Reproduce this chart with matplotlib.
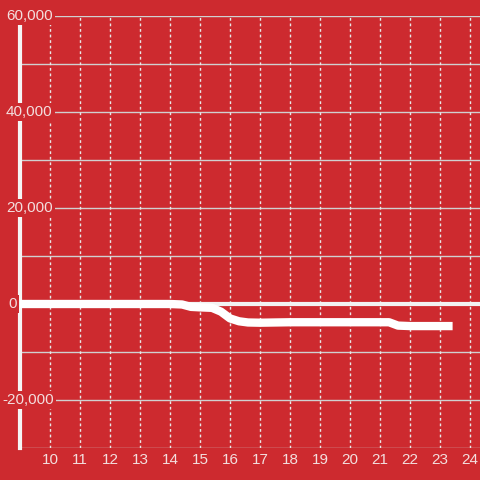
import matplotlib
matplotlib.use("Agg")
import matplotlib.pyplot as plt
import matplotlib.transforms as mtransforms

# balance over the day (hour, value)
hours = [9, 10, 11, 12, 13, 14, 14.4, 14.7, 15, 15.4, 15.7, 16, 16.3, 16.6, 17,
         18, 19, 20, 21, 21.3, 21.6, 22, 23, 23.42]
values = [0, 0, 0, 0, 0, 0, -100, -600, -700, -800, -1600, -3000, -3600, -3850, -3900,
          -3800, -3800, -3800, -3800, -3800, -4500, -4600, -4600, -4600]

x_ticks = list(range(10, 25))
y_ticks = [-20000, 0, 20000, 40000, 60000]
y_labels = ["-20,000", "0", "20,000", "40,000", "60,000"]

bg = "#cd2a2f"
txt = "#f3dede"
font = "Liberation Sans"

fig = plt.figure(figsize=(4.8, 4.8), dpi=100, facecolor=bg)
ax = fig.add_axes([20 / 480, 32 / 480, 460 / 480, 432 / 480])
ax.set_facecolor(bg)
ax.set_xlim(9, 24.333)
ax.set_ylim(-30000, 60000)

# grid
for y in range(-30000, 60001, 10000):
    ax.axhline(y, color="#d0d0d0", lw=1, zorder=1)
for x in x_ticks:
    ax.axvline(x, color="#e8e8e8", lw=1, ls=(0, (2, 2)), zorder=1)

# zero line and series
ax.axhline(0, color="#f2f2f2", lw=3, zorder=2)
ax.plot(hours, values, color="white", lw=6, solid_joinstyle="round",
        solid_capstyle="butt", zorder=3)

for s in ["top", "right", "bottom"]:
    ax.spines[s].set_visible(False)
ax.spines["left"].set_color("#f5f5f5")
ax.spines["left"].set_linewidth(3)

ax.set_xticks([])
ax.set_yticks([])

xlab_tr = ax.transData + mtransforms.ScaledTranslation(0, -5 / 100, fig.dpi_scale_trans)
for x in x_ticks:
    ax.text(x, -30000, str(x), transform=xlab_tr, ha="center", va="top",
            fontsize=11, color=txt, family=font, clip_on=False)

trans = mtransforms.blended_transform_factory(fig.transFigure, ax.transData)
for y, lab in zip(y_ticks, y_labels):
    xpos = 8 / 480 if lab == "0" else (2 / 480 if lab.startswith("-") else 6 / 480)
    ax.text(xpos, y, lab, transform=trans, ha="left", va="center", fontsize=11,
            color=txt, family=font, clip_on=False, zorder=5,
            bbox=dict(facecolor=bg, edgecolor="none", pad=1.5))

fig.savefig("out.png", dpi=100, facecolor=bg)
